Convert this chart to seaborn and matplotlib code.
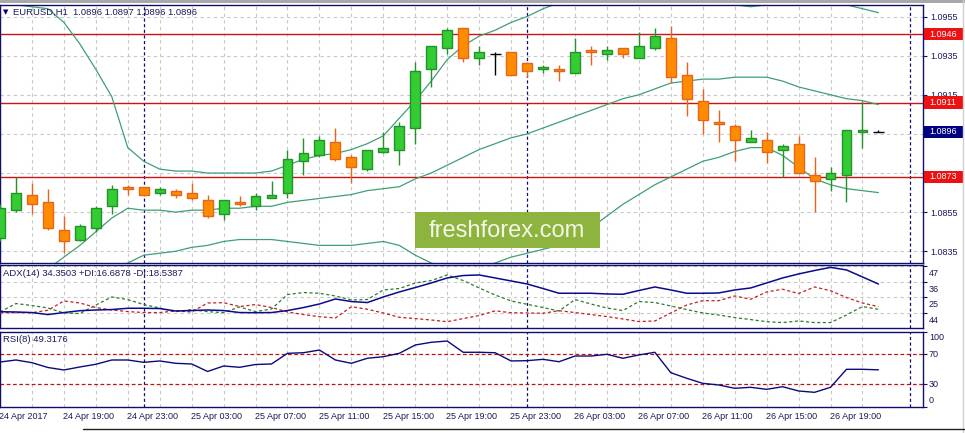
import numpy as np
import matplotlib
matplotlib.use('Agg')
import matplotlib.pyplot as plt
import matplotlib.transforms as mtransforms
from matplotlib.patches import Rectangle
from matplotlib.lines import Line2D
import seaborn as sns

sns.set_style('white')
plt.rcParams['font.family'] = ['Liberation Sans', 'DejaVu Sans']

# --- EURUSD H1, 24 Apr 15:00 .. 26 Apr 22:00 (56 bars) ---
open_ = [1.0842, 1.0856, 1.0864, 1.0860, 1.0846, 1.0841, 1.0847, 1.0858, 1.0868, 1.0868,
         1.0865, 1.0866, 1.0865, 1.0861, 1.0854, 1.0860, 1.0858, 1.0862, 1.0865, 1.0881,
         1.0884, 1.0891, 1.0883, 1.0877, 1.0886, 1.0887, 1.0898, 1.0928, 1.0939, 1.0949,
         1.0934, 1.0936, 1.0937, 1.0931, 1.0928, 1.0928, 1.0926, 1.0938, 1.0936, 1.0939,
         1.0934, 1.0939, 1.0944, 1.0925, 1.0912, 1.0901, 1.0899, 1.0891, 1.0892, 1.0887,
         1.0890, 1.0874, 1.0872, 1.0874, 1.0896, 1.0896]
high = [1.0859, 1.0873, 1.0870, 1.0867, 1.0853, 1.0849, 1.0858, 1.0869, 1.0869, 1.0868,
        1.0868, 1.0867, 1.0870, 1.0864, 1.0861, 1.0863, 1.0865, 1.0871, 1.0887, 1.0893,
        1.0894, 1.0898, 1.0884, 1.0887, 1.0896, 1.0901, 1.0932, 1.0940, 1.0949, 1.0949,
        1.0940, 1.0937, 1.0937, 1.0932, 1.0930, 1.0930, 1.0944, 1.0940, 1.0940, 1.0939,
        1.0947, 1.0949, 1.0950, 1.0932, 1.0918, 1.0907, 1.0900, 1.0897, 1.0896, 1.0890,
        1.0894, 1.0883, 1.0878, 1.0897, 1.0912, 1.0897]
low = [1.0840, 1.0855, 1.0854, 1.0846, 1.0834, 1.0840, 1.0845, 1.0854, 1.0864, 1.0863,
       1.0864, 1.0862, 1.0861, 1.0852, 1.0851, 1.0858, 1.0856, 1.0862, 1.0862, 1.0874,
       1.0883, 1.0881, 1.0870, 1.0876, 1.0885, 1.0879, 1.0890, 1.0919, 1.0936, 1.0932,
       1.0930, 1.0925, 1.0925, 1.0924, 1.0926, 1.0922, 1.0926, 1.0930, 1.0933, 1.0934,
       1.0934, 1.0938, 1.0921, 1.0904, 1.0895, 1.0891, 1.0881, 1.0891, 1.0880, 1.0873,
       1.0875, 1.0855, 1.0866, 1.0860, 1.0888, 1.0896]
close = [1.0857, 1.0865, 1.0859, 1.0847, 1.0840, 1.0848, 1.0857, 1.0867, 1.0867, 1.0864,
         1.0867, 1.0864, 1.0862, 1.0853, 1.0861, 1.0859, 1.0863, 1.0864, 1.0882, 1.0885,
         1.0892, 1.0882, 1.0878, 1.0887, 1.0888, 1.0899, 1.0927, 1.0940, 1.0948, 1.0934,
         1.0937, 1.0936, 1.0925, 1.0927, 1.0929, 1.0927, 1.0937, 1.0937, 1.0938, 1.0936,
         1.0940, 1.0945, 1.0924, 1.0913, 1.0902, 1.0900, 1.0892, 1.0893, 1.0886, 1.0889,
         1.0875, 1.0871, 1.0875, 1.0897, 1.0897, 1.0896]

# Bollinger bands
bb_upper = [1.0961, 1.0961, 1.0960, 1.0959, 1.0952, 1.0941, 1.0928, 1.0914, 1.0888, 1.0881,
            1.0877, 1.0876, 1.0876, 1.0875, 1.0875, 1.0875, 1.0875, 1.0876, 1.0879, 1.0882,
            1.0884, 1.0885, 1.0887, 1.0890, 1.0894, 1.0903, 1.0912, 1.0922, 1.0933, 1.0940,
            1.0945, 1.0948, 1.0952, 1.0955, 1.0959, 1.0962, 1.0963, 1.0964, 1.0965, 1.0965,
            1.0965, 1.0965, 1.0965, 1.0964, 1.0963, 1.0962, 1.0961, 1.0960, 1.0961, 1.0962,
            1.0963, 1.0963, 1.0962, 1.0961, 1.0959, 1.0957]
bb_middle = [1.0806, 1.0812, 1.0819, 1.0826, 1.0832, 1.0838, 1.0845, 1.0852, 1.0857, 1.0856,
             1.0856, 1.0855, 1.0856, 1.0856, 1.0857, 1.0857, 1.0858, 1.0858, 1.0860, 1.0861,
             1.0862, 1.0863, 1.0864, 1.0866, 1.0867, 1.0868, 1.0872, 1.0875, 1.0879, 1.0883,
             1.0887, 1.0890, 1.0893, 1.0895, 1.0898, 1.0901, 1.0904, 1.0907, 1.0910, 1.0913,
             1.0915, 1.0918, 1.0921, 1.0922, 1.0923, 1.0923, 1.0924, 1.0924, 1.0924, 1.0922,
             1.0919, 1.0917, 1.0915, 1.0913, 1.0912, 1.0910]
bb_lower = [1.0650, 1.0663, 1.0678, 1.0694, 1.0714, 1.0735, 1.0762, 1.0795, 1.0829, 1.0833,
            1.0834, 1.0835, 1.0837, 1.0838, 1.0840, 1.0841, 1.0841, 1.0841, 1.0840, 1.0839,
            1.0838, 1.0838, 1.0838, 1.0839, 1.0840, 1.0838, 1.0833, 1.0829, 1.0826, 1.0824,
            1.0826, 1.0829, 1.0832, 1.0834, 1.0836, 1.0838, 1.0842, 1.0847, 1.0853, 1.0859,
            1.0864, 1.0869, 1.0873, 1.0877, 1.0881, 1.0883, 1.0886, 1.0888, 1.0888, 1.0884,
            1.0878, 1.0872, 1.0869, 1.0867, 1.0866, 1.0865]

adx = [15.0, 14.8, 14.4, 13.0, 14.4, 15.7, 16.2, 16.5, 17.4, 17.4,
       17.2, 15.5, 15.8, 16.2, 15.8, 14.4, 14.3, 14.4, 15.8, 17.9,
       20.4, 23.9, 22.1, 21.4, 25.3, 28.8, 31.9, 35.1, 38.6, 40.3,
       40.7, 38.6, 36.5, 34.4, 31.2, 27.9, 27.9, 27.9, 27.4, 27.2,
       29.8, 32.3, 30.2, 27.9, 27.9, 28.1, 30.2, 31.6, 35.1, 38.6,
       41.4, 43.8, 46.0, 44.2, 39.3, 34.35]
plus_di = [14.8, 20.7, 19.3, 17.6, 14.1, 13.7, 19.7, 25.3, 23.5, 20.0,
           17.6, 15.0, 16.5, 15.0, 14.4, 18.3, 15.1, 16.9, 27.0, 28.4,
           27.9, 26.0, 23.2, 23.5, 30.2, 31.2, 35.1, 36.8, 40.7, 36.8,
           31.6, 26.7, 22.5, 20.2, 17.9, 15.5, 23.5, 20.4, 17.6, 15.8,
           22.1, 21.4, 19.0, 16.5, 14.1, 12.7, 10.9, 9.5, 8.0, 7.4,
           8.5, 7.4, 7.4, 12.7, 18.6, 16.69]
minus_di = [14.3, 14.3, 14.3, 16.0, 22.5, 21.1, 17.9, 16.2, 15.1, 14.4,
            14.4, 15.5, 14.8, 21.1, 21.3, 18.6, 20.0, 17.9, 14.8, 13.0,
            11.5, 10.6, 18.5, 16.7, 14.1, 11.1, 10.2, 9.2, 8.0, 10.2,
            12.3, 15.6, 14.3, 14.1, 13.9, 15.7, 14.4, 13.0, 11.6, 9.9,
            8.1, 8.5, 14.1, 19.7, 22.7, 22.7, 26.0, 23.7, 28.8, 30.7,
            27.7, 32.3, 29.7, 24.9, 21.1, 18.54]
rsi = [59.7, 62.4, 58.8, 52.4, 49.1, 53.1, 56.7, 62.4, 62.4, 59.3,
       61.1, 58.0, 57.1, 47.1, 54.4, 52.7, 56.4, 57.1, 71.3, 72.1,
       75.7, 62.4, 58.0, 64.7, 66.8, 71.3, 82.4, 86.0, 87.7, 72.7,
       72.7, 72.1, 61.1, 61.5, 63.3, 60.1, 67.7, 67.7, 70.0, 64.7,
       69.1, 72.7, 45.5, 38.0, 31.3, 29.1, 24.7, 26.0, 23.3, 26.8,
       21.1, 19.3, 26.0, 50.0, 50.0, 49.3]

levels = [1.0946, 1.0911, 1.0873]
price_ticks = [1.0835, 1.0855, 1.0875, 1.0895, 1.0915, 1.0935, 1.0955]
# 1.0875 / 1.0895 sit under the price boxes, so no visible label there
price_tick_labels = ['1.0835', '1.0855', '', '', '1.0915', '1.0935', '1.0955']
adx_ticks = [47, 36, 25, 14]
adx_tick_labels = ['47', '36', '25', '44']
rsi_levels = [70, 30]
rsi_ticks = [100, 70, 30, 0]
time_labels = ['24 Apr 2017', '24 Apr 19:00', '24 Apr 23:00', '25 Apr 03:00', '25 Apr 07:00',
               '25 Apr 11:00', '25 Apr 15:00', '25 Apr 19:00', '25 Apr 23:00', '26 Apr 03:00',
               '26 Apr 07:00', '26 Apr 11:00', '26 Apr 15:00', '26 Apr 19:00']
day_breaks = [9, 33, 57]
last_price = 1.0896

NAVY = '#10106a'
TXT = '#1a1a5a'
GRID = '#c8c8c8'
FS = 6.5

idx = np.arange(len(open_))
W, H = 965, 433
fig = plt.figure(figsize=(W / 100, H / 100), dpi=100)


def axes_px(top, bottom, right=923):
    return fig.add_axes([0, 1 - bottom / H, right / W, (bottom - top) / H])


ax = axes_px(5, 263)
ax_adx = axes_px(265, 328)
ax_rsi = axes_px(331.8, 406.8)

xlim = (0.106, 57.79)
for a in (ax, ax_adx, ax_rsi):
    a.set_xlim(*xlim)
    a.set_facecolor('white')
    for s in a.spines.values():
        s.set_color(NAVY)
        s.set_linewidth(1.0)
    a.set_xticks(np.arange(0, 56, 4))
    a.set_xticks(np.arange(2, 56, 4), minor=True)
    a.tick_params(axis='x', which='both', length=0, labelbottom=False)
    a.grid(True, which='both', color=GRID, linestyle=(0, (3, 3)), linewidth=0.8)
    a.yaxis.tick_right()
    a.tick_params(axis='y', which='major', direction='out', length=3, color=NAVY,
                  labelsize=FS, labelcolor=TXT, pad=2, right=True, left=False)
    for d in day_breaks:
        a.axvline(d, color=NAVY, linestyle=(0, (2.5, 2)), linewidth=0.9, zorder=1.5)

# --- main panel: candles + bands + levels ---
ax.set_ylim(1.08290, 1.09609)
ax.set_yticks(price_ticks)
ax.set_yticklabels(price_tick_labels)

for lvl in levels:
    ax.axhline(lvl, color='#cc1414', linewidth=1.0, zorder=1.8)

for band in (bb_upper, bb_middle, bb_lower):
    sns.lineplot(x=idx, y=band, ax=ax, color='#3f9f76', linewidth=0.9, legend=False, zorder=2)

o = np.array(open_); c = np.array(close); hi = np.array(high); lo = np.array(low)
up = c > o
down = c < o
flat = c == o
ax.vlines(idx[up], lo[up], hi[up], color='#23922a', linewidth=1.0, zorder=3)
ax.vlines(idx[down], lo[down], hi[down], color='#e8641a', linewidth=1.0, zorder=3)
ax.vlines(idx[flat], lo[flat], hi[flat], color='black', linewidth=1.0, zorder=3)
ax.bar(idx[up], (c - o)[up], bottom=o[up], width=0.62, color='#33cc33',
       edgecolor='#23922a', linewidth=1.0, zorder=4)
ax.bar(idx[down], (o - c)[down], bottom=c[down], width=0.62, color='#ff8c00',
       edgecolor='#e8641a', linewidth=1.0, zorder=4)
ax.hlines(c[flat], idx[flat] - 0.35, idx[flat] + 0.35, color='black', linewidth=1.0, zorder=4)

# right-side price boxes
btrans = mtransforms.blended_transform_factory(ax.transAxes, ax.transData)
box_h = 12.5 / 19600
for lvl, fc in [(levels[0], '#ee1111'), (levels[1], '#ee1111'), (levels[2], '#ee1111'), (last_price, '#000080')]:
    ax.add_patch(Rectangle((1.001, lvl - box_h / 2), 0.0435, box_h, transform=btrans,
                           facecolor=fc, edgecolor='none', clip_on=False, zorder=6))
    ax.text(1.0065, lvl, f'{lvl:.4f}', transform=btrans, ha='left', va='center',
            fontsize=FS, color='white', clip_on=False, zorder=7)

# --- ADX panel ---
ax_adx.set_ylim(3.6, 47.66)
ax_adx.set_yticks(adx_ticks)
ax_adx.set_yticklabels([])
atrans = mtransforms.blended_transform_factory(ax_adx.transAxes, ax_adx.transData) + \
    mtransforms.ScaledTranslation(0, -7.5 / 100, fig.dpi_scale_trans)
for v, lab in zip(adx_ticks, adx_tick_labels):
    ax_adx.text(1.0065, v, lab, transform=atrans, ha='left', va='center', fontsize=FS,
                color=TXT, clip_on=False)
sns.lineplot(x=idx, y=plus_di, ax=ax_adx, color='#2a7d2a', linewidth=0.9,
             linestyle=(0, (2.5, 2)), legend=False, zorder=3)
sns.lineplot(x=idx, y=minus_di, ax=ax_adx, color='#c42020', linewidth=0.9,
             linestyle=(0, (2.5, 2)), legend=False, zorder=3)
sns.lineplot(x=idx, y=adx, ax=ax_adx, color='#0a0a8c', linewidth=1.1, legend=False, zorder=4)

# --- RSI panel ---
ax_rsi.set_ylim(0, 100)
ax_rsi.set_yticks(rsi_ticks)
ax_rsi.set_yticklabels([])
ax_rsi.grid(False, axis='y')
for lv in rsi_levels:
    ax_rsi.axhline(lv, color='#c41010', linestyle=(0, (3, 2)), linewidth=0.9, zorder=2)
rtrans = mtransforms.blended_transform_factory(ax_rsi.transAxes, ax_rsi.transData)
for v in rsi_ticks:
    shift = -6 if v == 100 else (6.5 if v == 0 else 0)
    t = rtrans + mtransforms.ScaledTranslation(0, shift / 100, fig.dpi_scale_trans)
    ax_rsi.text(1.0065, v, str(v), transform=t, ha='left', va='center', fontsize=FS,
                color=TXT, clip_on=False)
sns.lineplot(x=idx, y=rsi, ax=ax_rsi, color='#0a0a7a', linewidth=1.0, legend=False, zorder=4)

# x tick marks + left-aligned time labels under the RSI panel
ax_rsi.tick_params(axis='x', which='major', length=3, direction='out', color=NAVY)
xtrans = mtransforms.blended_transform_factory(ax_rsi.transData, ax_rsi.transAxes) + \
    mtransforms.ScaledTranslation(0, -5.5 / 100, fig.dpi_scale_trans)
for k, lab in enumerate(time_labels):
    ax_rsi.text(4 * k - 0.05, 0, lab, transform=xtrans, ha='left', va='top',
                fontsize=FS, color=TXT, clip_on=False)

for a in (ax, ax_adx, ax_rsi):
    a.set_xlabel('')
    a.set_ylabel('')

# --- headers ---
fig.text(3 / W, 1 - 12 / H, '\u25bc', fontsize=5, color='#000080', va='center', ha='left',
         family='DejaVu Sans')
fig.text(13 / W, 1 - 12.5 / H, 'EURUSD,H1  1.0896 1.0897 1.0896 1.0896', fontsize=6.8,
         color=TXT, va='center', ha='left')
fig.text(3 / W, 1 - 273 / H, 'ADX(14) 34.3503 +DI:16.6878 -DI:18.5387', fontsize=6.8,
         color=TXT, va='center', ha='left')
fig.text(3 / W, 1 - 340 / H, 'RSI(8) 49.3176', fontsize=6.8, color=TXT, va='center', ha='left')

# watermark
fig.patches.append(Rectangle((415 / W, 1 - 248 / H), 185 / W, 36 / H, transform=fig.transFigure,
                             facecolor='#8db43e', edgecolor='none', zorder=10))
fig.text(507 / W, 1 - 231 / H, 'freshforex.com', fontsize=17, color='#f4f6e8',
         ha='center', va='center', zorder=11)

# terminal window frame bits
fig.patches.append(Rectangle((0, 1 - 2.5 / H), 1, 2.5 / H, transform=fig.transFigure,
                             facecolor='#a8a8a8', edgecolor='none'))
fig.lines.append(Line2D([962.5 / W, 962.5 / W], [0, 1], transform=fig.transFigure,
                        color='#d0d0d0', linewidth=1))
fig.lines.append(Line2D([83 / W, 1], [1 - 429 / H, 1 - 429 / H], transform=fig.transFigure,
                        color='#202020', linewidth=1))

fig.savefig('out.png', dpi=100)
